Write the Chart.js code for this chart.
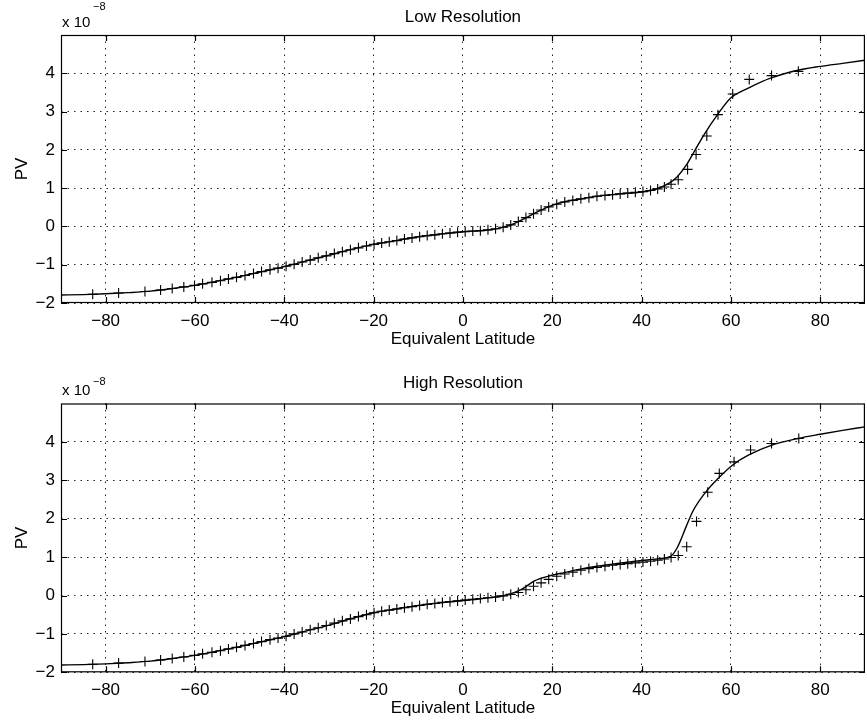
<!DOCTYPE html>
<html><head><meta charset="utf-8">
<script src="https://cdn.jsdelivr.net/npm/chart.js@4/dist/chart.umd.min.js"></script>
<style>
html,body{margin:0;padding:0;background:#fff;overflow:hidden;width:867px;height:721px;}
#w1{position:absolute;left:0;top:0;width:871px;height:360px;}
#w2{position:absolute;left:0;top:360px;width:871px;height:361px;}
canvas{display:block;}
</style></head><body>
<div id="w1"><canvas id="c1" width="871" height="360"></canvas></div>
<div id="w2"><canvas id="c2" width="871" height="361"></canvas></div>
<script>
// ---- tick labels ----
const xTicks = [-80, -60, -40, -20, 0, 20, 40, 60, 80];
const yTicks = [-2, -1, 0, 1, 2, 3, 4];

// ---- Low Resolution: smooth curve ----
const lowLineLat = [-90,-85,-80,-75,-70,-65,-60,-55,-50,-45,-40,-35,-30,-25,-20,-15,-10,-5,0,5,8,11,14,17,20,23,26,30,35,40,43,46,48,50,52,54,57,60,64,69,75,80,85,90];
const lowLinePV  = [-1.79,-1.78,-1.76,-1.73,-1.69,-1.62,-1.54,-1.43,-1.31,-1.18,-1.05,-0.90,-0.75,-0.60,-0.47,-0.37,-0.27,-0.20,-0.14,-0.10,-0.05,0.05,0.22,0.40,0.55,0.65,0.71,0.79,0.85,0.90,0.97,1.12,1.30,1.60,2.00,2.40,2.92,3.36,3.62,3.88,4.08,4.18,4.26,4.34];

// ---- Low Resolution: "+" samples ----
const lowMarkLat = [-82.9,-77.1,-71.2,-67.7,-65.1,-62.5,-60.1,-58.3,-56.2,-54.3,-52.5,-50.7,-48.8,-46.9,-45.1,-43.2,-41.4,-39.6,-37.8,-36.0,-34.2,-32.4,-30.6,-28.8,-27.0,-25.2,-23.4,-21.6,-19.9,-18.2,-16.5,-14.8,-13.1,-11.4,-9.7,-8.0,-6.3,-4.6,-2.9,-1.2,0.5,2.2,3.9,5.6,7.3,9.0,10.7,12.4,14.1,15.8,17.5,19.2,21.0,22.8,24.6,26.4,28.2,30.0,31.8,33.5,35.2,36.9,38.6,40.3,42.0,43.6,45.1,46.6,48.2,50.3,52.2,54.6,57.1,60.4,64.1,69.1,75.1];
const lowMarkPV  = [-1.77,-1.74,-1.70,-1.66,-1.62,-1.58,-1.54,-1.50,-1.46,-1.42,-1.37,-1.33,-1.28,-1.23,-1.18,-1.13,-1.09,-1.04,-0.99,-0.93,-0.88,-0.82,-0.77,-0.71,-0.66,-0.61,-0.56,-0.51,-0.47,-0.43,-0.40,-0.37,-0.33,-0.30,-0.27,-0.24,-0.22,-0.19,-0.17,-0.15,-0.14,-0.12,-0.11,-0.09,-0.06,-0.02,0.04,0.13,0.23,0.33,0.43,0.51,0.58,0.64,0.68,0.72,0.75,0.79,0.81,0.83,0.85,0.87,0.89,0.91,0.94,0.98,1.03,1.10,1.22,1.49,1.88,2.36,2.92,3.46,3.84,3.94,4.05];

// ---- High Resolution: smooth curve ----
const highLineLat = [-90,-85,-80,-75,-70,-65,-60,-55,-50,-45,-40,-35,-30,-25,-20,-15,-10,-5,0,5,10,13,16,19,22,26,30,35,40,44,46.5,48,50,51.5,54.4,57.4,60.4,64,69,75,80,85,90];
const highLinePV  = [-1.81,-1.80,-1.78,-1.75,-1.71,-1.64,-1.56,-1.45,-1.33,-1.20,-1.07,-0.92,-0.77,-0.60,-0.45,-0.35,-0.26,-0.19,-0.13,-0.07,0.02,0.15,0.38,0.50,0.58,0.68,0.76,0.84,0.91,0.96,1.02,1.25,1.80,2.20,2.70,3.08,3.40,3.66,3.91,4.09,4.20,4.30,4.39];

// ---- High Resolution: "+" samples ----
const highMarkLat = [-82.9,-77.1,-71.2,-67.7,-65.1,-62.5,-60.1,-58.3,-56.2,-54.3,-52.5,-50.7,-48.8,-46.9,-45.1,-43.2,-41.4,-39.6,-37.8,-36.0,-34.2,-32.4,-30.6,-28.8,-27.0,-25.2,-23.4,-21.6,-19.9,-18.2,-16.5,-14.8,-13.1,-11.4,-9.7,-8.0,-6.3,-4.6,-2.9,-1.2,0.5,2.2,3.9,5.6,7.3,9.0,10.7,12.4,14.1,15.8,17.5,19.2,21.0,22.8,24.6,26.4,28.2,30.0,31.8,33.5,35.2,36.9,38.6,40.3,42.0,43.6,45.1,46.6,48.2,50.1,52.3,54.8,57.4,60.7,64.4,69.1,75.2];
const highMarkPV  = [-1.79,-1.76,-1.72,-1.68,-1.64,-1.60,-1.56,-1.52,-1.48,-1.44,-1.39,-1.35,-1.30,-1.25,-1.20,-1.15,-1.11,-1.06,-1.00,-0.95,-0.89,-0.84,-0.78,-0.72,-0.66,-0.61,-0.55,-0.50,-0.45,-0.41,-0.38,-0.35,-0.32,-0.29,-0.26,-0.23,-0.21,-0.18,-0.16,-0.14,-0.12,-0.10,-0.08,-0.06,-0.04,-0.01,0.03,0.08,0.15,0.24,0.33,0.42,0.50,0.56,0.61,0.66,0.70,0.73,0.76,0.79,0.81,0.83,0.85,0.87,0.89,0.92,0.95,0.99,1.04,1.27,1.93,2.69,3.18,3.48,3.79,3.96,4.09];

const FONT = "'Liberation Sans', Arial, Helvetica, sans-serif";
const fmt = v => (v < 0 ? '\u2212' + Math.abs(v) : String(v));
const pts = (xs, ys) => xs.map((x, i) => ({x: x, y: ys[i]}));

const framePlugin = {
  id: 'frame',
  afterDatasetsDraw(chart, args, o) {
    const ctx = chart.ctx, a = chart.chartArea;
    const xs = chart.scales.x, ys = chart.scales.y;
    ctx.save();
    ctx.strokeStyle = '#000';
    ctx.lineWidth = 1.2;
    ctx.strokeRect(a.left + 0.5, a.top + 0.5, a.right - a.left - 1, a.bottom - a.top - 1);
    const L = 6;
    ctx.beginPath();
    xTicks.forEach(v => {
      const p = Math.round(xs.getPixelForValue(v)) + 0.5;
      ctx.moveTo(p, a.bottom); ctx.lineTo(p, a.bottom - L);
      ctx.moveTo(p, a.top); ctx.lineTo(p, a.top + L);
    });
    yTicks.forEach(v => {
      const p = Math.round(ys.getPixelForValue(v)) + 0.5;
      ctx.moveTo(a.left, p); ctx.lineTo(a.left + L, p);
      ctx.moveTo(a.right, p); ctx.lineTo(a.right - L, p);
    });
    ctx.stroke();
    ctx.fillStyle = '#000';
    ctx.textAlign = 'center';
    ctx.textBaseline = 'alphabetic';
    ctx.font = '17px ' + FONT;
    ctx.fillText(o.title, (a.left + a.right) / 2, o.titleBase);
    ctx.textAlign = 'left';
    ctx.font = '15px ' + FONT;
    ctx.fillText('x 10', 62, o.expBase);
    ctx.font = '11px ' + FONT;
    ctx.fillText('\u22128', 93, o.supBase);
    ctx.restore();
  }
};

function makeChart(id, lineLat, linePV, markLat, markPV, p) {
  return new Chart(document.getElementById(id), {
    type: 'scatter',
    data: {
      datasets: [
        {
          data: pts(lineLat, linePV), showLine: true, borderColor: '#000', borderWidth: 1.4,
          pointRadius: 0, cubicInterpolationMode: 'monotone', fill: false, order: 1
        },
        {
          data: pts(markLat, markPV), showLine: false, pointStyle: 'cross', pointRadius: 5,
          pointBorderWidth: 1.1, borderColor: '#000', backgroundColor: '#000', order: 2
        }
      ]
    },
    options: {
      responsive: false, animation: false, devicePixelRatio: 1,
      layout: {padding: {top: p.top, left: 0, right: 0, bottom: 0}},
      plugins: {legend: {display: false}, tooltip: {enabled: false}, title: {display: false},
        frame: {title: p.title, titleBase: p.titleBase, expBase: p.expBase, supBase: p.supBase}},
      scales: {
        x: {
          type: 'linear', min: -90, max: 90,
          afterBuildTicks: s => { s.ticks = xTicks.map(v => ({value: v})); },
          afterFit: s => { s.height = p.xh; },
          ticks: {callback: v => fmt(v), font: {family: FONT, size: 17}, color: '#000', padding: 8, maxRotation: 0, autoSkip: false},
          grid: {color: '#222', lineWidth: 1, drawTicks: false},
          border: {display: false, dash: [1.5, 5]},
          title: {display: true, text: 'Equivalent Latitude', font: {family: FONT, size: 17}, color: '#000', padding: {top: 0, bottom: p.xtb}}
        },
        y: {
          type: 'linear', min: -2, max: 5,
          afterBuildTicks: s => { s.ticks = yTicks.map(v => ({value: v})); },
          afterFit: s => { s.width = 61; },
          ticks: {callback: v => fmt(v), font: {family: FONT, size: 17}, color: '#000', padding: 6, autoSkip: false},
          grid: {color: '#222', lineWidth: 1, drawTicks: false},
          border: {display: false, dash: [1.5, 5]},
          title: {display: true, text: 'PV', font: {family: FONT, size: 17}, color: '#000', padding: {top: 12, bottom: 0}}
        }
      }
    },
    plugins: [framePlugin]
  });
}

makeChart('c1', lowLineLat, lowLinePV, lowMarkLat, lowMarkPV,
  {top: 35, xh: 57, xtb: 10.8, title: 'Low Resolution', titleBase: 21.7, expBase: 27, supBase: 10});
makeChart('c2', highLineLat, highLinePV, highMarkLat, highMarkPV,
  {top: 43.5, xh: 48.7, xtb: 2.5, title: 'High Resolution', titleBase: 28, expBase: 35, supBase: 25});
</script>
</body></html>
